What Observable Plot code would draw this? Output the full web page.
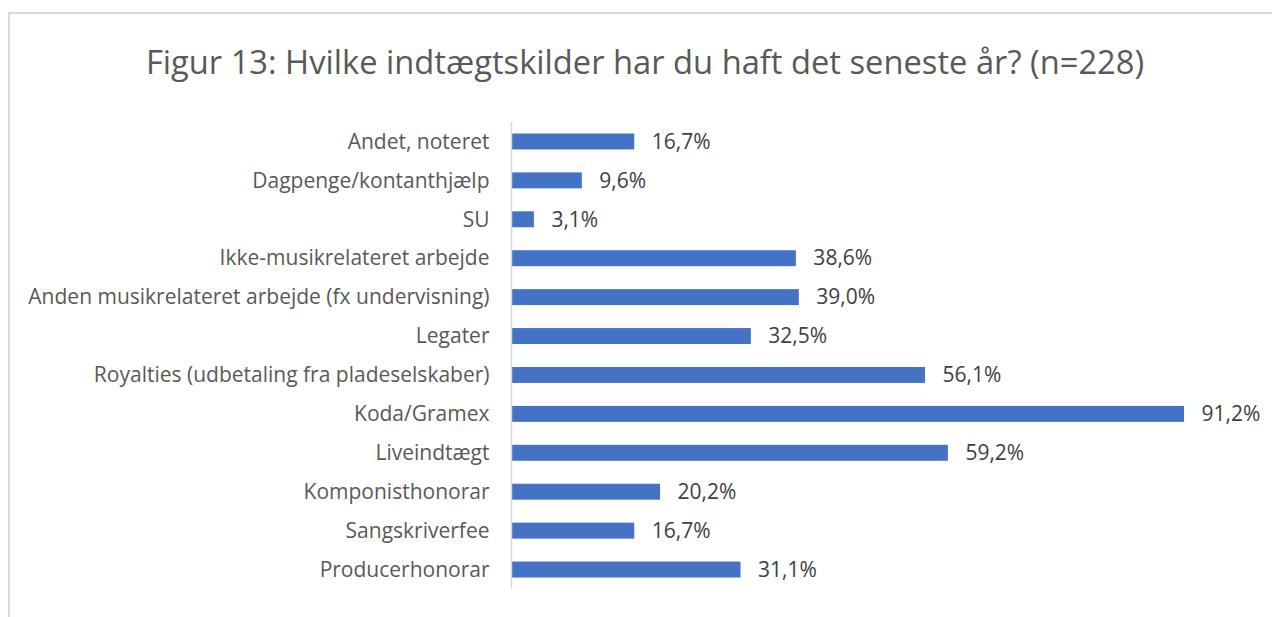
<!DOCTYPE html>
<html>
<head>
<meta charset="utf-8">
<script src="https://cdn.jsdelivr.net/npm/d3@7"></script>
<script src="https://cdn.jsdelivr.net/npm/@observablehq/plot@0.6"></script>
<style>
  html, body { margin: 0; padding: 0; background: #fff; }
  #wrap { position: relative; width: 1272px; height: 617px; overflow: hidden; font-family: "Open Sans", sans-serif; }
  #frame { position: absolute; left: 8px; top: 12px; width: 1300px; height: 700px; border-top: 2px solid #d9d9d9; border-left: 2px solid #d9d9d9; box-sizing: border-box; }
  #title { position: absolute; left: 0; top: 0; width: 1290px; height: 100px; text-align: center; font-size: 32.7px; line-height: 1; color: #595959; padding-top: 46px; box-sizing: border-box; white-space: nowrap; }
  #chart { position: absolute; left: 0; top: 100px; }
</style>
</head>
<body>
<div id="wrap">
  <div id="frame"></div>
  <div id="title">Figur 13: Hvilke indtægtskilder har du haft det seneste år? (n=228)</div>
  <div id="chart"></div>
</div>
<script>
const categories = [
  "Andet, noteret",
  "Dagpenge/kontanthjælp",
  "SU",
  "Ikke-musikrelateret arbejde",
  "Anden musikrelateret arbejde (fx undervisning)",
  "Legater",
  "Royalties (udbetaling fra pladeselskaber)",
  "Koda/Gramex",
  "Liveindtægt",
  "Komponisthonorar",
  "Sangskriverfee",
  "Producerhonorar"
];
const values = [16.7, 9.6, 3.1, 38.6, 39.0, 32.5, 56.1, 91.2, 59.2, 20.2, 16.7, 31.1];

const data = categories.map((c, i) => ({category: c, value: values[i]}));
const fmt = v => v.toFixed(1).replace(".", ",") + "%";

const chart = Plot.plot({
  width: 1272,
  height: 517,
  marginLeft: 511,
  marginRight: 23,
  marginTop: 22,
  marginBottom: 28,
  style: {fontFamily: "'Open Sans', sans-serif", fontSize: "21px", color: "#595959", background: "transparent"},
  x: {domain: [0, 100], axis: null},
  y: {domain: categories, paddingInner: 0.59, paddingOuter: 0.295, round: false, label: null, tickSize: 0, tickPadding: 22},
  marks: [
    Plot.barX(data, {x: "value", y: "category", fill: "#4472C4"}),
    Plot.ruleX([0], {stroke: "#d9d9d9", strokeWidth: 1.5}),
    Plot.text(data, {x: "value", y: "category", text: d => fmt(d.value), textAnchor: "start", dx: 17, fill: "#404040", fontSize: 21})
  ]
});
document.getElementById("chart").appendChild(chart);
</script>
</body>
</html>
